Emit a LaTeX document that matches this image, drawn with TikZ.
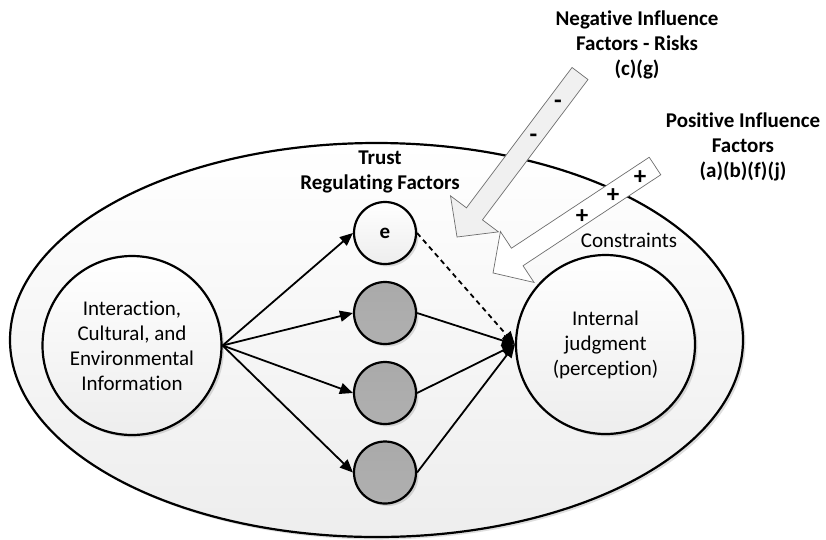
\documentclass[tikz,border=0pt]{standalone}
\usepackage{fontspec}
\setmainfont[Ligatures={NoCommon,NoContextual,NoDiscretionary},Contextuals=NoAlternate,RawFeature={-liga;-clig;-calt}]{Carlito}
\usetikzlibrary{arrows.meta,shadows}
\definecolor{arrowfill}{HTML}{F0F0F0}
\definecolor{arrowedge}{HTML}{6E6E6E}
\definecolor{nodegray}{HTML}{A0A0A0}
\begin{document}
\begin{tikzpicture}[x=1pt,y=-1pt,
  every node/.style={font=\fontsize{21}{25}\selectfont},
  softshade/.style={top color=white,bottom color=black!7},
  shadowed/.style={drop shadow={shadow xshift=2.5pt,shadow yshift=-2.5pt,fill=black,opacity=0.13}},
  bigcircle/.style={circle,draw,line width=2.2pt,minimum size=179pt,inner sep=0pt,
    align=center,softshade,shadowed},
  factor/.style={circle,draw,line width=2.2pt,minimum size=62pt,inner sep=0pt,shadowed},
  link/.style={line width=1.8pt,-{Triangle[length=13pt,width=11pt]}},
  blockarrow/.style={draw=arrowedge,line width=0.7pt},
  heading/.style={font=\fontsize{21}{25}\selectfont\bfseries,align=center},
  sign/.style={font=\fontsize{25}{30}\selectfont\bfseries,inner sep=0pt}]

\useasboundingbox (0,0) rectangle (826,539);

% outer trust context
\path[draw,line width=2.2pt,softshade,shadowed]
  (376.5,340) ellipse [x radius=366.5,y radius=197];

% main stages
\node[bigcircle] (info) at (132,345.5)
  {Interaction,\\Cultural, and\\Environmental\\Information};
\node[bigcircle] (judge) at (605.5,344.5)
  {Internal\\judgment\\(perception)};

% trust regulating factors
\node[factor,softshade,font=\fontsize{21}{25}\selectfont\bfseries] (e) at (385,233) {e};
\node[factor,top color=nodegray!90,bottom color=nodegray!110!black] (f1) at (385,313) {};
\node[factor,top color=nodegray!90,bottom color=nodegray!110!black] (f2) at (385,393) {};
\node[factor,top color=nodegray!90,bottom color=nodegray!110!black] (f3) at (385,472.5) {};

\foreach \n in {e,f1,f2,f3}
  \draw[link] (info.east) -- (\n.west);
\foreach \n in {f1,f2,f3}
  \draw[link] (\n.east) -- (judge.west);
\draw[link,dash pattern=on 5pt off 4pt] (e.east) -- (judge.west);

% labels
\node[heading] (trust) at (380,172) {Trust\\Regulating Factors};
\node[heading] (neg) at (637,45) {Negative Influence\\Factors - Risks\\(c)(g)};
\node[heading] (pos) at (743,147) {Positive Influence\\Factors\\(a)(b)(f)(j)};
\node (constr) at (629,240) {Constraints};

% negative influence block arrow
\begin{scope}[shift={(580,73.5)},rotate=233.05]
  \path[blockarrow,fill=arrowfill]
    (0,10) -- (175.6,10) -- (175.6,30) -- (204.6,0) -- (175.6,-30)
    -- (175.6,-10) -- (0,-10) -- cycle;
\end{scope}
% positive influence block arrow
\begin{scope}[shift={(655,166)},rotate=213.44]
  \path[blockarrow,fill=white]
    (0,10.5) -- (165.1,10.5) -- (165.1,30.5) -- (194.1,0) -- (165.1,-30.5)
    -- (165.1,-10.5) -- (0,-10.5) -- cycle;
\end{scope}

\node[sign] (m1) at (558,104) {-};
\node[sign] (m2) at (533.5,138) {-};
\node[sign] (p1) at (640,178) {+};
\node[sign] (p2) at (613,196) {+};
\node[sign] (p3) at (582,217) {+};
\end{tikzpicture}
\end{document}
